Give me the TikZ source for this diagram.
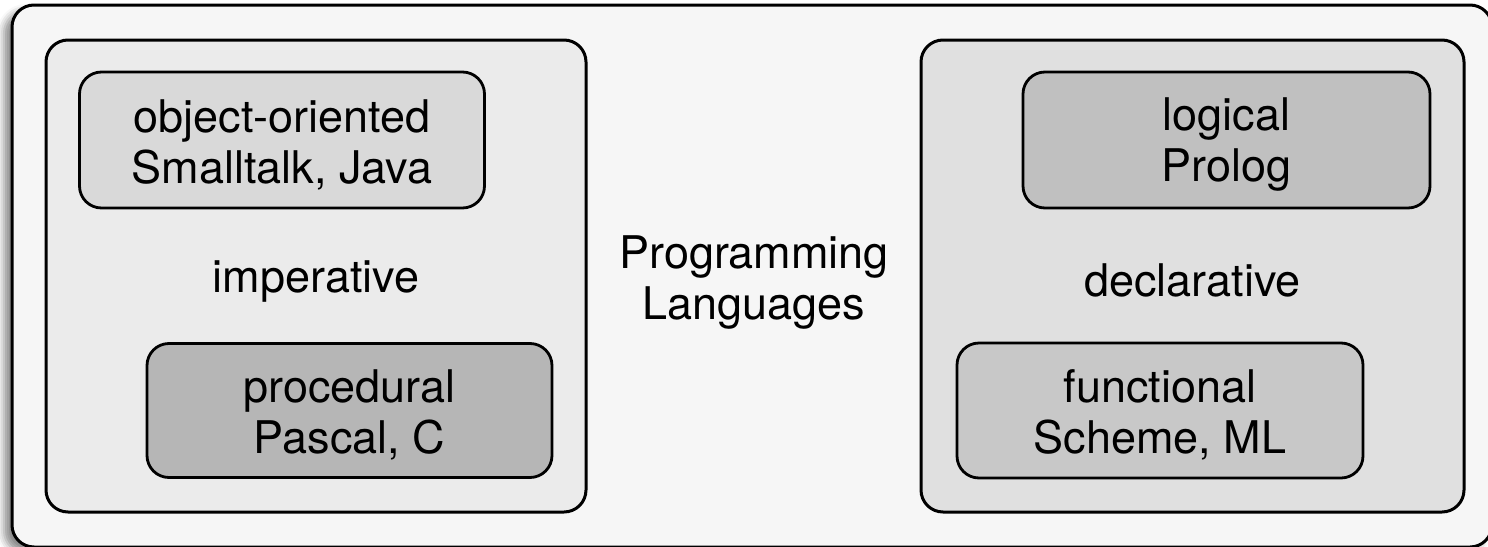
\documentclass[tikz,border=0pt]{standalone}
\usepackage{fontspec}
\setmainfont{TeX Gyre Heros}
\usetikzlibrary{shadows.blur}

\definecolor{outerfill}{gray}{0.965}
\definecolor{impfill}{gray}{0.922}
\definecolor{decfill}{gray}{0.878}
\definecolor{oofill}{gray}{0.851}
\definecolor{procfill}{gray}{0.714}
\definecolor{logfill}{gray}{0.753}
\definecolor{funfill}{gray}{0.784}

% strut that lowers the text block a little inside its box
\newcommand{\lowerstrut}{\rule{0pt}{21pt}}

\tikzset{
  panel/.style={draw=black, line width=1.5pt, rounded corners=11pt,
    rectangle, inner sep=0pt, outer sep=0pt, align=center,
    font=\fontsize{22.5}{25.5}\selectfont},
  paradigm/.style={panel, line width=1.4pt},
  caption/.style={align=center, inner sep=0pt,
    font=\fontsize{22.5}{25.5}\selectfont}
}

\begin{document}
\begin{tikzpicture}[x=0.5pt, y=-0.5pt]
  \useasboundingbox (0,0) rectangle (1488,546);

  % frame around the whole classification
  \node[panel, fill=outerfill, minimum width=740pt, minimum height=271pt,
        blur shadow={shadow xshift=-4pt, shadow yshift=-3pt,
                     shadow blur radius=3.5pt, shadow opacity=45}]
        (outer) at (752,276) {};
  \node[caption] (title) at (754,280) {\rule{0pt}{19pt}Programming\\Languages};

  % imperative family
  \node[panel, fill=impfill, minimum width=270pt, minimum height=236pt]
        (imp) at (316,276) {\lowerstrut imperative};
  \node[paradigm, fill=oofill, minimum width=202.5pt, minimum height=68pt]
        (oo) at (282,140) {\lowerstrut object-oriented\\Smalltalk, Java};
  \node[paradigm, fill=procfill, minimum width=202.5pt, minimum height=67pt]
        (proc) at (349.5,410.5) {\lowerstrut procedural\\Pascal, C};

  % declarative family
  \node[panel, fill=decfill, minimum width=271.5pt, minimum height=236pt]
        (dec) at (1192.5,276) {\lowerstrut declarative};
  \node[paradigm, fill=logfill, minimum width=203.5pt, minimum height=68pt]
        (log) at (1226.5,140) {\lowerstrut logical\\Prolog};
  \node[paradigm, fill=funfill, minimum width=203pt, minimum height=67.5pt]
        (fun) at (1160,410.5) {\lowerstrut functional\\Scheme, ML};
\end{tikzpicture}
\end{document}
